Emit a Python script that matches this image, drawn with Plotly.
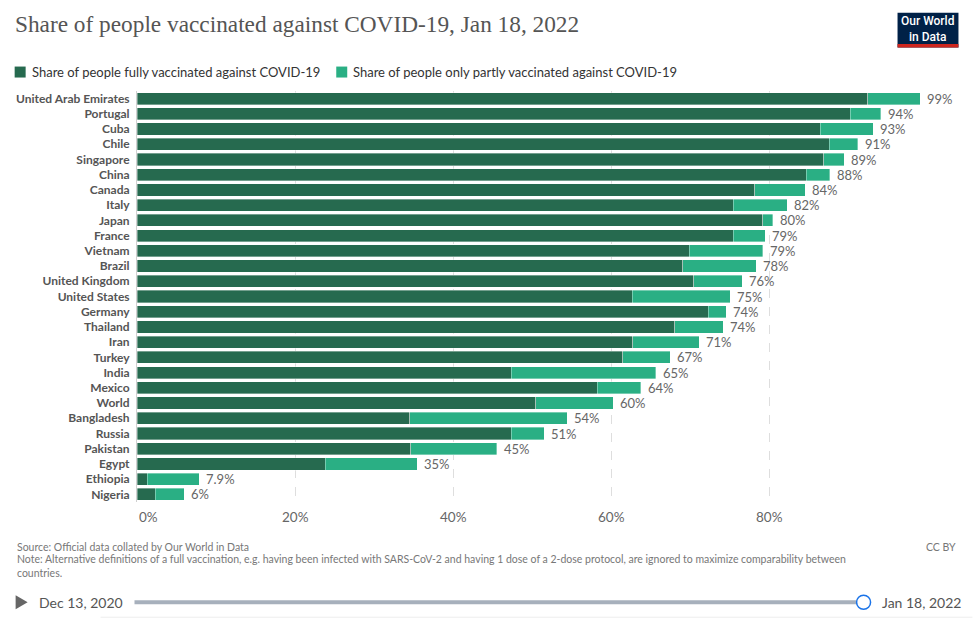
import plotly.graph_objects as go

countries = ["United Arab Emirates", "Portugal", "Cuba", "Chile", "Singapore", "China", "Canada",
             "Italy", "Japan", "France", "Vietnam", "Brazil", "United Kingdom", "United States",
             "Germany", "Thailand", "Iran", "Turkey", "India", "Mexico", "World", "Bangladesh",
             "Russia", "Pakistan", "Egypt", "Ethiopia", "Nigeria"]
fully = [92.4, 90.2, 86.4, 87.5, 86.8, 84.6, 78.1, 75.4, 79.1, 75.4, 69.8, 69.0, 70.4, 62.6,
         72.2, 68.0, 62.7, 61.4, 47.3, 58.2, 50.4, 34.5, 47.3, 34.6, 23.8, 1.3, 2.3]
partly = [6.6, 3.8, 6.7, 3.6, 2.6, 3.0, 6.4, 6.8, 1.3, 4.0, 9.3, 9.3, 6.1, 12.4,
          2.3, 6.1, 8.4, 6.0, 18.3, 5.5, 9.8, 19.9, 4.2, 10.9, 11.6, 6.6, 3.7]
labels = ["99%", "94%", "93%", "91%", "89%", "88%", "84%", "82%", "80%", "79%", "79%", "78%",
          "76%", "75%", "74%", "74%", "71%", "67%", "65%", "64%", "60%", "54%", "51%", "45%",
          "35%", "7.9%", "6%"]
xticks = [0, 20, 40, 60, 80]
xticklabels = ["0%", "20%", "40%", "60%", "80%"]

DARK = "#266a4f"
LIGHT = "#2aaf84"
W, H = 973, 619
L, R, T, B = 136.5, 928.5, 90.5, 502.5


def px(x):
    return (x - L) / (R - L)


def py(y):
    return (B - y) / (B - T)


totals = [f + p for f, p in zip(fully, partly)]

fig = go.Figure()
fig.add_trace(go.Bar(y=countries, x=fully, orientation="h", marker=dict(color=DARK, line=dict(width=0.6, color="rgba(255,255,255,0.6)")),
                     name="Share of people fully vaccinated against COVID-19", showlegend=False, hoverinfo="skip"))
fig.add_trace(go.Bar(y=countries, x=partly, orientation="h", marker=dict(color=LIGHT, line=dict(width=0.6, color="rgba(255,255,255,0.6)")),
                     name="Share of people only partly vaccinated against COVID-19", showlegend=False, hoverinfo="skip"))

for c, t, lab in zip(countries, totals, labels):
    fig.add_annotation(x=t, y=c, xref="x", yref="y", text=lab, showarrow=False, xanchor="left",
                       yanchor="middle", xshift=5, font=dict(family="Lato", size=13, color="#666"))

fig.update_layout(
    width=W, height=H, barmode="stack", bargap=0.2,
    margin=dict(l=L, r=W - R, t=T, b=H - B, pad=0),
    paper_bgcolor="white", plot_bgcolor="white",
    font=dict(family="Lato", color="#555"),
    xaxis=dict(range=[0, 100], tickvals=xticks, showticklabels=False, showgrid=True,
               gridcolor="#dedede", griddash="dash", gridwidth=1, zeroline=False, fixedrange=True),
    yaxis=dict(range=[len(countries) - 0.5, -0.5], showline=True, linecolor="#d0d0d0", linewidth=1,
               tickfont=dict(family="Lato", size=12, color="#555", weight=700),
               ticks="", ticklabelstandoff=4, showgrid=False, fixedrange=True),
)

# x tick labels
for v, t in zip(xticks, xticklabels):
    fig.add_annotation(x=v, y=py(518), xref="x", yref="paper", text=t, showarrow=False,
                       xanchor="left" if v == 0 else "center", yanchor="middle",
                       font=dict(family="Lato", size=13.5, color="#666"))

# Title
fig.add_annotation(x=px(12), y=py(23), xref="paper", yref="paper", xanchor="left", yanchor="middle",
                   text="Share of people vaccinated against COVID-19, Jan 18, 2022", showarrow=False,
                   font=dict(family="Liberation Serif", size=23.3, color="#555"))

# Legend
shapes = []
for x0, txt, col in [(14, "Share of people fully vaccinated against COVID-19", DARK),
                     (336, "Share of people only partly vaccinated against COVID-19", LIGHT)]:
    shapes.append(dict(type="rect", xref="paper", yref="paper", x0=px(x0), x1=px(x0 + 11),
                       y0=py(77), y1=py(66), fillcolor=col, line=dict(width=0)))
    fig.add_annotation(x=px(x0 + 15), y=py(71.5), xref="paper", yref="paper", xanchor="left", yanchor="middle",
                       text=txt, showarrow=False, font=dict(family="Lato", size=13, color="#333"))

# Logo
shapes.append(dict(type="rect", xref="paper", yref="paper", x0=px(898), x1=px(959), y0=py(47), y1=py(12),
                   fillcolor="#002147", line=dict(width=0)))
shapes.append(dict(type="rect", xref="paper", yref="paper", x0=px(898), x1=px(959), y0=py(47), y1=py(43.5),
                   fillcolor="#ce261e", line=dict(width=0)))
fig.add_annotation(x=px(928.5), y=py(28), xref="paper", yref="paper", xanchor="center", yanchor="middle",
                   text="Our World<br>in Data", showarrow=False,
                   font=dict(family="Roboto", size=12, color="white", weight=500))

# Footer
fig.add_annotation(x=px(14), y=py(548), xref="paper", yref="paper", xanchor="left", yanchor="middle",
                   text="Source: Official data collated by Our World in Data", showarrow=False,
                   font=dict(family="Lato", size=10.5, color="#777"))
fig.add_annotation(x=px(14), y=py(567), xref="paper", yref="paper", xanchor="left", yanchor="middle", align="left",
                   text="Note: Alternative definitions of a full vaccination, e.g. having been infected with SARS-CoV-2 and having 1 dose of a 2-dose protocol, are ignored to maximize comparability between<br>countries.",
                   showarrow=False, font=dict(family="Lato", size=10.5, color="#777"))
fig.add_annotation(x=px(959), y=py(548), xref="paper", yref="paper", xanchor="right", yanchor="middle",
                   text="CC BY", showarrow=False, font=dict(family="Lato", size=10.5, color="#777"))

# Timeline
shapes.append(dict(type="path", xref="paper", yref="paper",
                   path=f"M {px(15)} {py(596)} L {px(27)} {py(603)} L {px(15)} {py(610)} Z",
                   fillcolor="#666", line=dict(width=0)))
fig.add_annotation(x=px(36), y=py(603), xref="paper", yref="paper", xanchor="left", yanchor="middle",
                   text="Dec 13, 2020", showarrow=False, font=dict(family="Lato", size=14, color="#555"))
shapes.append(dict(type="rect", xref="paper", yref="paper", x0=px(134), x1=px(862), y0=py(605), y1=py(601),
                   fillcolor="#a7b0bc", line=dict(width=0)))
shapes.append(dict(type="circle", xref="paper", yref="paper", x0=px(857), x1=px(871), y0=py(610), y1=py(596),
                   fillcolor="white", line=dict(width=1.5, color="#1a73e8")))
fig.add_annotation(x=px(880), y=py(603), xref="paper", yref="paper", xanchor="left", yanchor="middle",
                   text="Jan 18, 2022", showarrow=False, font=dict(family="Lato", size=14, color="#555"))
shapes.append(dict(type="line", xref="paper", yref="paper", x0=px(100), x1=px(973), y0=py(618), y1=py(618),
                   line=dict(width=1, color="#eeeeee")))

fig.update_layout(shapes=shapes)
fig.write_html("out.html", config={"displayModeBar": False},
               post_script="document.body.style.margin='0';document.body.style.overflow='hidden';")
